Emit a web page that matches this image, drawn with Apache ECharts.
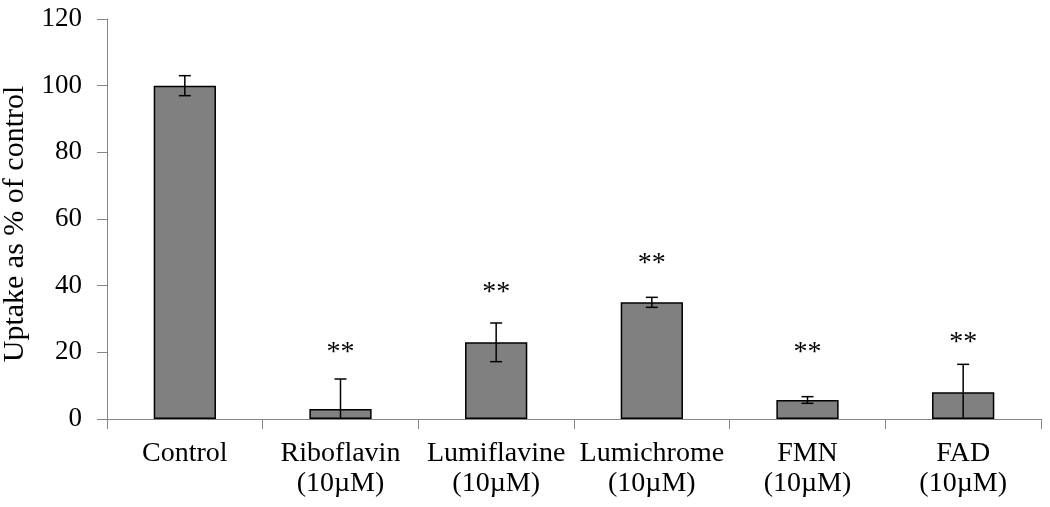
<!DOCTYPE html>
<html>
<head>
<meta charset="utf-8">
<script src="https://cdn.jsdelivr.net/npm/echarts@6/dist/echarts.min.js"></script>
<style>
  html, body { margin: 0; padding: 0; background: #fff; }
  #chart { width: 1050px; height: 507px; }
</style>
</head>
<body>
<div id="chart"></div>
<script>
// data
const categories = ['Control', 'Riboflavin\n(10\u00b5M)', 'Lumiflavine\n(10\u00b5M)', 'Lumichrome\n(10\u00b5M)', 'FMN\n(10\u00b5M)', 'FAD\n(10\u00b5M)'];
const uptake = [100, 3, 23, 35, 5.7, 8];
const errors = [3, 9, 5.8, 1.5, 1, 8.4];
const starLabels = ['', '**', '**', '**', '**', '**'];
const starHeights = [0, 20, 37.8, 46.5, 20, 23];

const chart = echarts.init(document.getElementById('chart'));

const serif = 'Liberation Serif';

const option = {
  animation: false,
  grid: { left: 107, right: 9, top: 19, bottom: 88, outerBoundsMode: 'none' },
  xAxis: {
    type: 'category',
    data: categories,
    axisLine: { lineStyle: { color: '#868686', width: 1 } },
    axisTick: { show: true, length: 10, lineStyle: { color: '#868686' } },
    axisLabel: {
      color: '#000',
      fontFamily: serif,
      fontSize: 28,
      lineHeight: 30,
      margin: 20,
      interval: 0
    }
  },
  yAxis: {
    type: 'value',
    min: 0,
    max: 120,
    interval: 20,
    name: 'Uptake as % of control',
    nameLocation: 'middle',
    nameGap: 76,
    nameTextStyle: { color: '#000', fontFamily: serif, fontSize: 30, padding: [0, 10, 0, 0] },
    axisLine: { show: true, lineStyle: { color: '#868686', width: 1 } },
    axisTick: { show: true, length: 10, lineStyle: { color: '#868686' } },
    axisLabel: { color: '#000', fontFamily: serif, fontSize: 27, margin: 25 },
    splitLine: { show: false }
  },
  series: [
    {
      type: 'bar',
      data: uptake,
      barCategoryGap: '60%',
      itemStyle: { color: '#808080', borderColor: '#000', borderWidth: 1.5 }
    },
    {
      // error bars
      type: 'custom',
      data: uptake.map((v, i) => [i, v + errors[i], v - errors[i]]),
      z: 10,
      renderItem: function (params, api) {
        const i = api.value(0);
        const hi = api.value(1);
        const lo = api.value(2);
        const top = api.coord([i, hi]);
        const bot = api.coord([i, Math.max(0, lo)]);
        const style = { stroke: '#000', lineWidth: 1.5 };
        const children = [
          { type: 'line', shape: { x1: top[0], y1: top[1], x2: bot[0], y2: bot[1] }, style: style },
          { type: 'line', shape: { x1: top[0] - 6, y1: top[1], x2: top[0] + 6, y2: top[1] }, style: style }
        ];
        if (lo > 0) {
          children.push({ type: 'line', shape: { x1: bot[0] - 6, y1: bot[1], x2: bot[0] + 6, y2: bot[1] }, style: style });
        }
        return { type: 'group', children: children };
      }
    },
    {
      // significance stars
      type: 'custom',
      data: starHeights.map((v, i) => [i, v]),
      z: 10,
      renderItem: function (params, api) {
        const i = api.value(0);
        const p = api.coord([i, api.value(1)]);
        return {
          type: 'text',
          x: p[0],
          y: p[1],
          style: {
            text: starLabels[i],
            fill: '#000',
            font: '28px "Liberation Serif"',
            align: 'center',
            verticalAlign: 'middle'
          }
        };
      }
    }
  ]
};

chart.setOption(option);
</script>
</body>
</html>
